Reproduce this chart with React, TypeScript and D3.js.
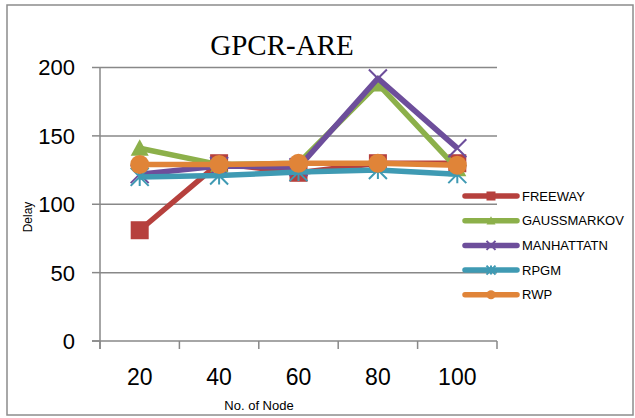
import React from "react";
import * as d3 from "d3";

const categories = ["20", "40", "60", "80", "100"];
const seriesNames = ["FREEWAY", "GAUSSMARKOV", "MANHATTATN", "RPGM", "RWP"];
const freeway = [81, 130, 123, 130, 130];
const gaussmarkov = [141, 129, 130, 188, 126];
const manhattatn = [122, 128, 127, 192, 141];
const rpgm = [120, 121, 123.5, 125, 122];
const rwp = [129, 129, 130, 130, 128.5];
const yTicks = [0, 50, 100, 150, 200];
const colors = ["#B6403D", "#8CB04A", "#6D4E9B", "#3F9AB3", "#E08438"];
const markers = ["square", "triangle", "x", "star", "circle"];
const allValues = [freeway, gaussmarkov, manhattatn, rpgm, rwp];

const W = 635, H = 418;
const plot = { left: 100, right: 497, top: 67.5, bottom: 341 };

function Marker({ type, x, y, s, color }: { type: string; x: number; y: number; s: number; color: string }) {
  const h = s / 2;
  if (type === "square") return <rect x={x - h} y={y - h} width={s} height={s} fill={color} />;
  if (type === "circle") return <circle cx={x} cy={y} r={h} fill={color} />;
  if (type === "triangle")
    return <path d={`M${x},${y - h}L${x + h},${y + h * 0.85}L${x - h},${y + h * 0.85}Z`} fill={color} />;
  if (type === "x")
    return (
      <path d={`M${x - h},${y - h}L${x + h},${y + h}M${x + h},${y - h}L${x - h},${y + h}`} stroke={color} strokeWidth={2} />
    );
  return (
    <path
      d={`M${x - h},${y - h}L${x + h},${y + h}M${x + h},${y - h}L${x - h},${y + h}M${x},${y - h}L${x},${y + h}`}
      stroke={color}
      strokeWidth={2}
    />
  );
}

export default function App() {
  const x = d3.scaleBand<string>().domain(categories).range([plot.left, plot.right]);
  const y = d3.scaleLinear().domain([0, 200]).range([plot.bottom, plot.top]);
  const cx = (c: string) => (x(c) as number) + x.bandwidth() / 2;
  const line = d3
    .line<number>()
    .x((_, i) => cx(categories[i]))
    .y((d) => y(d));
  const boundaries = categories.map((c) => x(c) as number).concat([plot.right]);
  const legendY = (i: number) => 196 + i * 24.7;

  return (
    <div style={{ position: "absolute", left: 0, top: 0 }}>
      <svg width={W} height={H} style={{ display: "block", background: "#fff" }}>
        <rect x={7} y={5} width={626} height={410} fill="#fff" stroke="#8c8c8c" strokeWidth={1.5} />
        <text x={282} y={55} textAnchor="middle" fontFamily="Liberation Serif, serif" fontSize={29} fill="#000">
          GPCR-ARE
        </text>
        {yTicks.map((t) => (
          <g key={t}>
            {t > 0 && (
              <line x1={plot.left} x2={plot.right} y1={y(t)} y2={y(t)} stroke="#888" strokeWidth={1.5} />
            )}
            <line x1={92} x2={plot.left} y1={y(t)} y2={y(t)} stroke="#888" strokeWidth={1.5} />
            <text
              x={75}
              y={y(t)}
              dy="0.36em"
              textAnchor="end"
              fontFamily="Liberation Sans, Arial, sans-serif"
              fontSize={22}
              fill="#000"
            >
              {t}
            </text>
          </g>
        ))}
        <line x1={plot.left} x2={plot.left} y1={plot.top} y2={plot.bottom + 8} stroke="#888" strokeWidth={1.5} />
        <line x1={92} x2={plot.right} y1={plot.bottom} y2={plot.bottom} stroke="#888" strokeWidth={1.5} />
        {boundaries.map((b, i) => (
          <line key={i} x1={b} x2={b} y1={plot.bottom} y2={plot.bottom + 8} stroke="#888" strokeWidth={1.5} />
        ))}
        {categories.map((c) => (
          <text
            key={c}
            x={cx(c)}
            y={385}
            textAnchor="middle"
            fontFamily="Liberation Sans, Arial, sans-serif"
            fontSize={23}
            fill="#000"
          >
            {c}
          </text>
        ))}
        <text x={259} y={410} textAnchor="middle" fontFamily="Liberation Sans, Arial, sans-serif" fontSize={13} fill="#000">
          No. of Node
        </text>
        <text
          transform="translate(32,217) rotate(-90)"
          textAnchor="middle"
          fontFamily="Liberation Sans, Arial, sans-serif"
          fontSize={12}
          fill="#000"
        >
          Delay
        </text>
        {allValues.map((vals, si) => (
          <g key={si}>
            <path d={line(vals) || ""} fill="none" stroke={colors[si]} strokeWidth={5.5} strokeLinejoin="round" />
            {vals.map((v, i) => (
              <Marker key={i} type={markers[si]} x={cx(categories[i])} y={y(v)} s={si === 4 ? 19 : si === 0 ? 18 : 18} color={colors[si]} />
            ))}
          </g>
        ))}
        {seriesNames.map((n, i) => (
          <g key={n}>
            <line x1={465} x2={517} y1={legendY(i)} y2={legendY(i)} stroke={colors[i]} strokeWidth={5.5} strokeLinecap="round" />
            <Marker type={markers[i]} x={491} y={legendY(i)} s={9} color={colors[i]} />
            <text
              x={522}
              y={legendY(i)}
              dy="0.36em"
              fontFamily="Liberation Sans, Arial, sans-serif"
              fontSize={13}
              fill="#000"
            >
              {n}
            </text>
          </g>
        ))}
      </svg>
    </div>
  );
}
